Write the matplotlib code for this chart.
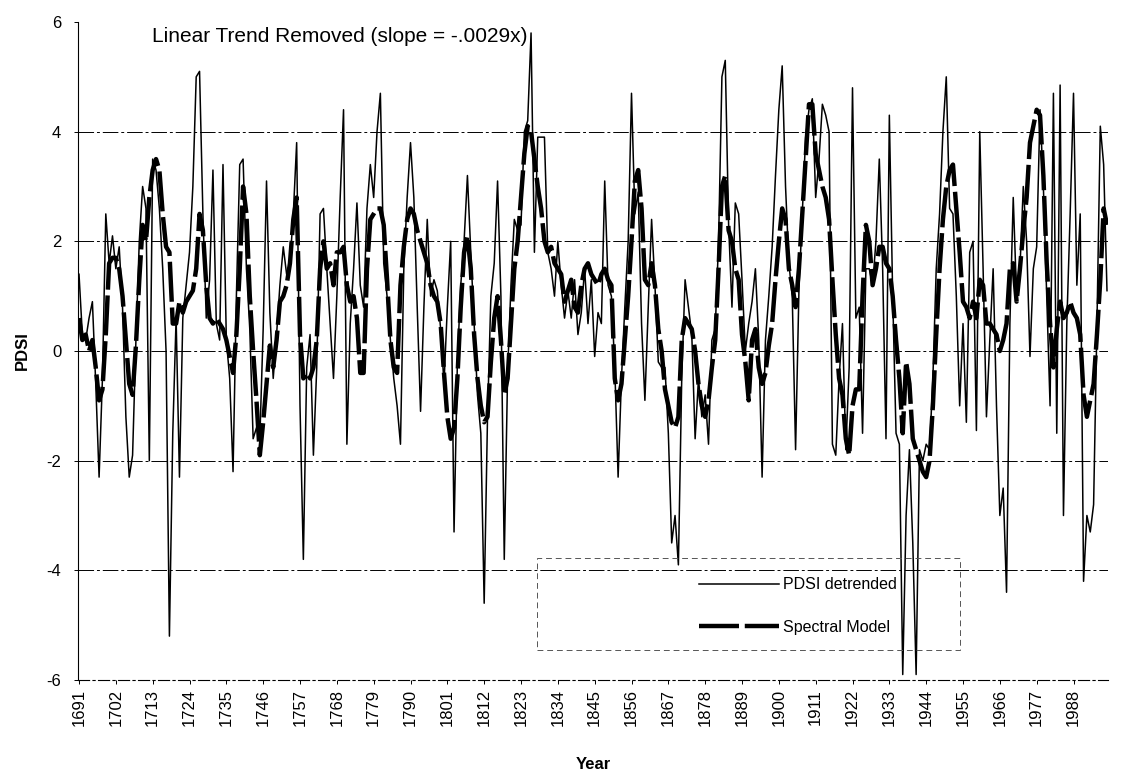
import matplotlib.pyplot as plt
import matplotlib.patches as patches
import numpy as np

plt.rcParams['font.family'] = ['Liberation Sans', 'DejaVu Sans']

start_year = 1691

# PDSI detrended, one value per year from 1691
pdsi_detrended = [
    1.4, 0.3, 0.2, 0.6, 0.9, -0.6, -2.3, -0.5, 2.5, 1.6,
    2.1, 1.5, 1.9, 0.8, -1.2, -2.3, -1.9, 0.2, 2.0, 3.0,
    2.6, -2.0, 3.5, 3.3, 2.6, 1.5, 0.0, -5.2, -1.5, 0.6,
    -2.3, 0.6, 1.2, 1.8, 3.0, 5.0, 5.1, 2.5, 0.6, 1.3,
    3.3, 0.5, 0.2, 3.4, 0.2, -0.5, -2.2, 1.0, 3.4, 3.5,
    1.5, 0.4, -1.6, -1.4, -1.6, 0.4, 3.1, 0.7, -0.5, 0.3,
    1.2, 1.9, 1.4, 1.6, 2.5, 3.8, -1.0, -3.8, -0.3, 0.3,
    -1.9, -0.3, 2.5, 2.6, 1.5, 0.5, -0.5, 1.0, 2.8, 4.4,
    -1.7, 0.5, 1.5, 2.7, 1.2, 0.8, 2.6, 3.4, 2.8, 4.0,
    4.7, 1.6, 1.0, 0.2, -0.5, -1.0, -1.7, 1.5, 2.8, 3.8,
    2.8, 0.8, -1.1, 0.8, 2.4, 1.0, 1.3, 1.1, 0.4, -0.6,
    0.8, 2.0, -3.3, -0.2, 1.2, 2.0, 3.2, 1.8, 0.5, -0.8,
    -1.5, -4.6, -1.2, 1.0, 1.6, 3.1, 1.0, -3.8, -0.4, 1.2,
    2.4, 2.2, 2.3, 4.0, 4.2, 5.8, 1.8, 3.9, 3.9, 3.9,
    1.8, 1.5, 1.0, 2.0, 1.2, 0.6, 1.1, 0.6, 1.3, 0.3,
    0.7, 1.5, 0.5, 1.3, -0.1, 0.7, 0.5, 3.1, 1.2, 1.0,
    -0.3, -2.3, -0.5, 0.8, 2.0, 4.7, 2.5, 2.9, 0.5, -0.9,
    0.8, 2.4, 1.2, -0.2, -0.3, -0.3, -1.5, -3.5, -3.0, -3.9,
    -0.5, 1.3, 0.8, 0.3, -1.6, -0.5, -1.2, -0.8, -1.7, 0.2,
    0.4, 2.0, 5.0, 5.3, 2.3, 0.8, 2.7, 2.5, 1.3, 0.0,
    0.5, 0.9, 1.5, 0.2, -2.3, 0.2, 1.0, 1.9, 3.2, 4.4,
    5.2, 3.0, 1.6, 1.0, -1.8, 1.1, 2.5, 3.9, 4.4, 4.6,
    2.8, 3.5, 4.5, 4.3, 4.0, -1.7, -1.9, -0.5, 0.5, -1.8,
    -0.3, 4.8, 0.6, 0.8, -1.5, 1.5, 1.5, 1.2, 2.0, 3.5,
    1.5, -1.6, 4.3, 1.0, -1.5, -1.7, -5.9, -3.0, -1.8, -3.5,
    -5.9, -1.8, -2.0, -1.7, -1.8, -0.5, 1.5, 2.5, 4.0, 5.0,
    2.6, 2.5, 1.0, -1.0, 0.5, -1.3, 1.8, 2.0, -1.45, 4.0,
    1.5, -1.2, 0.2, 1.5, -1.0, -3.0, -2.5, -4.4, 0.5, 2.8,
    1.0, 1.5, 3.0, 2.0, -0.1, 1.5, 1.9, 4.4, 3.0, 1.0,
    -1.0, 4.7, -1.5, 4.85, -3.0, 0.5, 2.5, 4.7, 1.2, 2.5,
    -4.2, -3.0, -3.3, -2.8, 0.5, 4.1, 3.4, 1.1,
]

# Spectral model, one value per year from 1691
spectral_model = [
    0.6, 0.2, 0.3, 0.0, 0.2, -0.3, -0.9, -0.7, 0.3, 1.6,
    1.7, 1.7, 1.5, 1.0, 0.2, -0.6, -0.8, 0.1, 1.3, 2.3,
    2.0, 2.8, 3.3, 3.5, 3.3, 2.5, 1.9, 1.8, 0.5, 0.5,
    0.9, 0.7, 0.9, 1.0, 1.1, 1.5, 2.5, 2.2, 1.2, 0.6,
    0.5, 0.6, 0.5, 0.4, 0.2, -0.1, -0.4, 0.3, 1.5, 3.0,
    2.5, 1.0, 0.0, -0.9, -1.9, -1.3, -0.6, 0.1, -0.3, 0.2,
    0.9, 1.0, 1.2, 1.6, 2.4, 2.8, 0.3, -0.5, -0.4, -0.5,
    -0.3, 0.2, 1.5, 2.0, 1.5, 1.6, 1.2, 1.8, 1.8, 1.9,
    1.2, 0.9, 1.0, 0.6, -0.4, -0.4, 1.5, 2.4, 2.5, 2.6,
    2.6, 2.3, 1.3, 0.2, -0.3, -0.4, 1.2, 1.9, 2.4, 2.6,
    2.5, 2.2, 2.0, 1.8, 1.6, 1.2, 1.0, 0.9, 0.5, -0.4,
    -1.2, -1.6, -1.4, -0.5, 0.8, 1.8, 2.1, 1.5, 0.3, -0.5,
    -1.0, -1.3, -1.2, -0.2, 0.6, 1.0, 0.2, -0.8, -0.5, 0.5,
    1.5, 2.0, 2.8, 3.6, 4.1, 4.0, 3.5, 3.0, 2.6, 2.0,
    1.8, 1.9, 1.6, 1.5, 1.4, 0.9, 1.1, 1.3, 0.8, 0.7,
    1.2, 1.5, 1.6, 1.4, 1.3, 1.2, 1.4, 1.5, 1.3, 1.2,
    -0.5, -0.9, -0.6, 0.2, 1.0, 2.0, 3.1, 3.3, 2.6, 1.3,
    1.2, 1.6, 1.2, 0.4, 0.0, -0.7, -1.0, -1.3, -1.4, -1.2,
    0.2, 0.6, 0.5, 0.4, 0.0, -0.6, -1.0, -1.2, -0.9, -0.3,
    0.2, 1.5, 3.0, 3.2, 2.2, 2.0, 1.5, 1.3, 0.3, -0.2,
    -0.9, 0.2, 0.4, -0.3, -0.6, -0.4, 0.1, 0.5, 1.3, 2.0,
    2.6, 2.4, 1.5, 1.2, 0.8, 1.5, 2.5, 3.5, 4.5, 4.5,
    3.6, 3.3, 3.0, 2.8, 2.4, 1.3, 0.3, -0.5, -0.8, -1.6,
    -1.9, -1.0, -0.7, -0.7, 1.0, 2.3, 2.0, 1.2, 1.5, 1.9,
    1.9, 1.6, 1.5, 1.0, 0.2, -0.5, -1.5, -0.2, -0.6, -1.6,
    -1.8, -2.0, -2.2, -2.3, -2.0, -1.0, 0.3, 1.5, 2.4, 3.0,
    3.3, 3.4, 2.6, 1.8, 0.9, 0.8, 0.6, 0.9, 0.6, 1.3,
    1.2, 0.5, 0.5, 0.4, 0.3, 0.0, 0.2, 0.5, 1.5, 1.6,
    0.9, 1.5, 2.2, 2.8, 3.8, 4.1, 4.4, 4.3, 3.2, 1.6,
    0.5, -0.3, 0.4, 0.9, 0.6, 0.7, 0.9, 0.7, 0.6, 0.3,
    -0.8, -1.2, -0.9, -0.6, 0.3, 1.3, 2.6, 2.3,
]

years = np.arange(start_year, start_year + len(pdsi_detrended))
tick_years = np.arange(1691, 1999, 11)
y_ticks = [-6, -4, -2, 0, 2, 4, 6]
grid_levels = [-4, -2, 0, 2, 4]

W, H = 1129, 776
fig = plt.figure(figsize=(W / 100, H / 100), dpi=100)
ax = fig.add_axes([78 / W, 1 - 680 / H, (1108 - 78) / W, (680 - 22) / H])

# horizontal grid lines (scanned look: broken lines)
for g in grid_levels:
    ax.axhline(g, color='black', lw=0.7, linestyle=(0, (16, 3, 3, 3)), zorder=1)

ax.plot(years, pdsi_detrended, color='black', lw=1.1, label='PDSI detrended', zorder=3)
ax.plot(years, spectral_model, color='black', lw=3.2, dashes=(9, 1.3),
        label='Spectral Model', zorder=2)

ax.set_xlim(years[0] - 0.3, years[-1] + 0.3)
ax.set_ylim(-6, 6)
ax.set_yticks(y_ticks)
ax.set_yticklabels([str(v) for v in y_ticks], fontsize=12)
ax.set_xticks(tick_years)
ax.set_xticklabels([str(t) for t in tick_years], rotation=90, fontsize=12)
ax.tick_params(axis='both', direction='out', length=3, width=0.7, colors='black')
ax.tick_params(axis='y', pad=9)

for s in ['top', 'right']:
    ax.spines[s].set_visible(False)
ax.spines['left'].set_linewidth(0.8)
ax.spines['bottom'].set_linewidth(0.8)
ax.spines['bottom'].set_linestyle((0, (10, 3, 2, 3)))

ax.set_ylabel('PDSI', fontweight='bold', fontsize=12, labelpad=12)
ax.set_xlabel('Year', fontweight='bold', fontsize=12, labelpad=22)

fig.text(152 / W, 1 - 37 / H, 'Linear Trend Removed (slope = -.0029x)',
         fontsize=15, va='center', ha='left')

# legend box
box = patches.Rectangle((537 / W, 1 - 650 / H), (960 - 537) / W, (650 - 558) / H,
                        transform=fig.transFigure, fill=False, edgecolor='#555555',
                        lw=0.7, linestyle=(0, (6, 4)))
fig.patches.append(box)
ax.legend(loc='center left', bbox_to_anchor=(691 / W, 1 - 606 / H),
          bbox_transform=fig.transFigure, frameon=False, fontsize=11.5,
          borderpad=0, handlelength=5, labelspacing=1.7, handletextpad=0.25)

fig.savefig('out.png', dpi=100, facecolor='white')
